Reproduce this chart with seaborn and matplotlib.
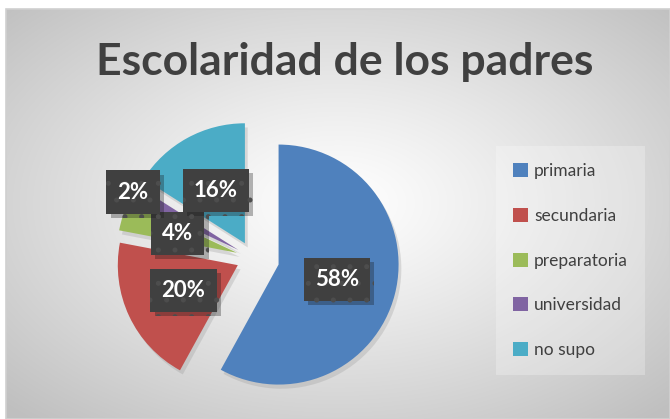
import numpy as np
import matplotlib
matplotlib.use("Agg")
import matplotlib.pyplot as plt
import matplotlib.patheffects as pe
from matplotlib.patches import Patch, Rectangle
import seaborn as sns

# data
categorias = ["primaria", "secundaria", "preparatoria", "universidad", "no supo"]
porcentajes = [58, 20, 4, 2, 16]
colores = ["#4F81BD", "#C0504D", "#9BBB59", "#8064A2", "#4BACC6"]
separacion = [0.22, 0.14, 0.14, 0.14, 0.14]
titulo = "Escolaridad de los padres"

sns.set_style("white")
sns.set_palette(colores)
plt.rcParams["font.family"] = ["Lato", "DejaVu Sans"]
plt.rcParams["hatch.linewidth"] = 1.2

W, H = 670, 419
fig = plt.figure(figsize=(W / 100, H / 100), dpi=100)
fig.patch.set_facecolor("white")

# chart area with radial gradient
bg = fig.add_axes([6 / W, 0, (W - 6) / W, (H - 9) / H], zorder=0)
nx, ny = 664, 410
xx, yy = np.meshgrid(np.linspace(-1, 1, nx), np.linspace(-1, 1, ny))
d = np.sqrt(xx ** 2 + (yy + 0.05) ** 2) / np.sqrt(2)
g = (255 - 64 * np.clip(d, 0, 1) ** 1.15) / 255
bg.imshow(np.dstack([g, g, g]), aspect="auto", extent=(0, 1, 0, 1), origin="upper")
bg.set_axis_off()
fig.patches.append(Rectangle((6 / W, 0), (W - 6) / W, (H - 9) / H, transform=fig.transFigure,
                             fill=False, edgecolor="#d0d0d0", lw=1.2, zorder=1))

# pie
cx, cy, r = 253, H - 258, 120
lim = 160
ax = fig.add_axes([(cx - lim) / W, (cy - lim) / H, 2 * lim / W, 2 * lim / H], zorder=2)

wedges, _, textos = ax.pie(porcentajes, colors=colores, explode=separacion, startangle=90,
                           counterclock=False, radius=1, autopct="%1.0f%%", pctdistance=0.5,
                           wedgeprops=dict(edgecolor="none"))
ax.set_xlim(-lim / r, lim / r)
ax.set_ylim(-lim / r, lim / r)
ax.set_axis_off()
ax.patch.set_alpha(0)

for w in wedges:
    w.set_path_effects([pe.SimplePatchShadow(offset=(2, -3), shadow_rgbFace="#9a9a9a", alpha=0.3),
                        pe.Normal()])

for w, t, p in zip(wedges, textos, porcentajes):
    ang = np.deg2rad((w.theta1 + w.theta2) / 2)
    dist = 1.0 if p == 2 else (0.52 if p == 4 else 0.5)
    t.set_position((w.center[0] + dist * w.r * np.cos(ang), w.center[1] + dist * w.r * np.sin(ang)))
    t.set_color("white")
    t.set_fontsize(16)
    t.set_fontweight("bold")
    t.set_bbox(dict(boxstyle="square,pad=0.5", facecolor="#404040", edgecolor="#4d4d4d",
                    linewidth=0, hatch="."))
    t.get_bbox_patch().set_path_effects([pe.SimplePatchShadow(offset=(3, -3), alpha=0.3), pe.Normal()])
    t.set_zorder(5)

# title
fig.text(345 / W, 1 - 75 / H, titulo, ha="center", va="baseline", fontsize=32,
         fontweight="bold", color="#404040")

# legend
handles = [Patch(facecolor=c, edgecolor="none") for c in colores]
leg = fig.legend(handles, categorias, loc="upper left", bbox_to_anchor=(496 / W, 1 - 146 / H),
                 bbox_transform=fig.transFigure, borderaxespad=0, frameon=True, fancybox=False,
                 fontsize=12.5, handlelength=0.85, handleheight=0.85, handletextpad=0.35,
                 labelspacing=1.65, borderpad=1.0)
leg.get_frame().set_facecolor("white")
leg.get_frame().set_alpha(0.25)
leg.get_frame().set_edgecolor("none")
for txt in leg.get_texts():
    txt.set_color("#404040")

fig.savefig("out.png", dpi=100)
